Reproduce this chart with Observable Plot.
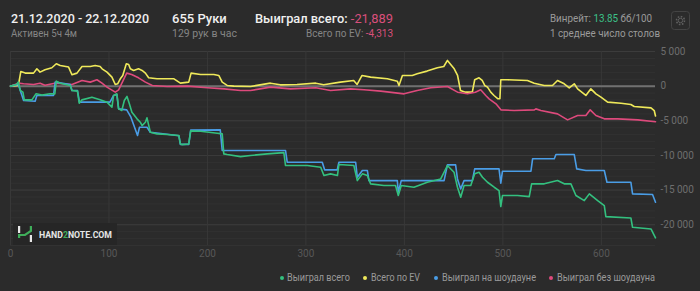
<!DOCTYPE html>
<html>
<head>
<meta charset="utf-8">
<script src="https://cdn.jsdelivr.net/npm/d3@7"></script>
<script src="https://cdn.jsdelivr.net/npm/@observablehq/plot@0.6"></script>
<style>
  html, body { margin: 0; padding: 0; background: #2b2b2b; }
  #wrap { position: relative; width: 700px; height: 291px; background: #2b2b2b; overflow: hidden; font-family: Roboto, "Noto Sans", sans-serif; }
  .t { position: absolute; white-space: nowrap; line-height: 1; }
  #chart { position: absolute; left: 0; top: 40px; }
  .leg { position: absolute; top: 273px; font-size: 10.5px; color: #9a9a9a; white-space: nowrap; line-height: 1; }
  .dot { position: absolute; width: 4px; height: 4px; border-radius: 50%; top: 276px; }
  #wm { position: absolute; left: 13px; top: 223px; width: 104px; height: 22px; background: #262626; }
</style>
</head>
<body>
<div id="wrap">
  <div class="t" id="h1" style="left:11px;top:12px;font-size:13px;font-weight:500;color:#f0f0f0">21.12.2020 - 22.12.2020</div>
  <div class="t" id="h2" style="left:11px;top:29px;font-size:10.5px;color:#858585">Активен 5ч 4м</div>
  <div class="t" id="h3" style="left:172px;top:12px;font-size:13px;font-weight:500;color:#f0f0f0">655 Руки</div>
  <div class="t" id="h4" style="left:172px;top:29px;font-size:10.5px;color:#858585">129 рук в час</div>
  <div class="t" id="h5" style="left:255px;top:12px;font-size:13px;font-weight:500;color:#f0f0f0">Выиграл всего: <span style="color:#d94f7c;font-weight:400">-21,889</span></div>
  <div class="t" id="h6" style="left:306px;top:29px;font-size:10.5px;color:#858585">Всего по EV: <span style="color:#d94f7c">-4,313</span></div>
  <div class="t" id="h7" style="left:550px;top:13px;font-size:11.5px;color:#9a9a9a">Винрейт: <span style="color:#3cc289">13.85</span> бб/100</div>
  <div class="t" id="h8" style="left:550px;top:28px;font-size:11.5px;color:#9a9a9a">1 среднее число столов</div>
  <svg style="position:absolute;left:671px;top:11px" width="19" height="19" viewBox="0 0 19 19">
    <rect x="0.5" y="0.5" width="18" height="18" rx="3" fill="none" stroke="#444"/>
    <circle cx="9.5" cy="9.5" r="4" fill="none" stroke="#5f5f5f" stroke-width="1.6" stroke-dasharray="1.6 1.5"/>
    <circle cx="9.5" cy="9.5" r="2.2" fill="none" stroke="#5f5f5f" stroke-width="1"/>
  </svg>
  <div id="chart"></div>
  <div id="wm">
    <svg style="position:absolute;left:4px;top:3px" width="16" height="16" viewBox="0 0 16 16">
      <rect x="1" y="0" width="2.2" height="7" fill="#e8e8e8"/>
      <rect x="12.8" y="9" width="2.2" height="7" fill="#e8e8e8"/>
      <path d="M2.1 12 L2.1 9 L8 9 L13.9 5 L13.9 0" fill="none" stroke="#3fae5a" stroke-width="2.2"/>
    </svg>
    <div class="t" id="wmt" style="left:26px;top:8px;font-size:8.5px;font-weight:700;color:#e6e6e6">HAND<span style="color:#3fae5a">2</span>NOTE.COM</div>
  </div>
  <span class="dot" style="left:280px;background:#33c07f"></span>
  <div class="leg" id="l1" style="left:287px">Выиграл всего</div>
  <span class="dot" style="left:363px;background:#efe95a"></span>
  <div class="leg" id="l2" style="left:371px">Всего по EV</div>
  <span class="dot" style="left:434px;background:#4a9de6"></span>
  <div class="leg" id="l3" style="left:442px">Выиграл на шоудауне</div>
  <span class="dot" style="left:549px;background:#de4a7c"></span>
  <div class="leg" id="l4" style="left:557px">Выиграл без шоудауна</div>
</div>
<script>
// [hand, value] pairs
const totalWon = [[0,0],[6,240],[8,580],[10,-630],[12.6,-870],[14,-1980],[21.7,-1980],[26,-1110],[32,-1300],[40,-1110],[45,-1110],[46.5,720],[50.5,430],[60.7,100],[62.4,-630],[68,-720],[69.8,-2460],[72.6,-1980],[82.7,-1590],[91,-1980],[98,-2310],[103,-3040],[104.7,-1350],[108,-1110],[109.8,-3280],[113,-3520],[115.6,-2070],[118.3,-1490],[120.7,-2550],[123.3,-3760],[128.5,-4720],[131.8,-5210],[133.6,-5690],[137,-5210],[138.6,-4580],[142,-6650],[148.8,-6890],[159,-6990],[171,-7130],[172.5,-8330],[174,-8440],[181,-8340],[183,-6450],[193,-6510],[210,-6800],[215,-6890],[216.6,-9780],[220,-9870],[233.6,-10170],[243.7,-10010],[260.7,-9770],[277.6,-9600],[279.3,-11460],[301.4,-11460],[315,-11700],[318.3,-12900],[325,-12660],[332,-12900],[333.5,-11310],[348.7,-11460],[352.2,-13630],[357.3,-12660],[362.4,-12900],[365.7,-14100],[379.2,-14350],[391,-14350],[393.8,-15790],[396.8,-14350],[409.7,-14590],[423.3,-13870],[436.9,-13390],[443.7,-11460],[450.4,-12420],[453.9,-14590],[457.2,-16040],[460.6,-14350],[467.4,-14350],[471.4,-12660],[475.8,-12420],[479.3,-13150],[484.4,-13870],[491.2,-14590],[496.1,-15070],[497.9,-17380],[499.6,-15790],[514.9,-15790],[526.8,-15940],[529.2,-14100],[542,-14100],[555.5,-13630],[562.3,-14100],[569.1,-14100],[574.2,-15790],[582.7,-16520],[587.8,-15550],[596.3,-16520],[603,-17240],[604.6,-18830],[630,-19020],[631.7,-20370],[650.4,-20610],[655,-21889]];

const evTotal = [[0,0],[8,100],[10.5,2120],[15,1880],[23.4,1880],[26.8,2500],[30,2020],[35,2360],[42,2650],[46.5,3230],[50.5,2990],[59,2750],[62.4,1640],[67.5,1880],[72.6,2840],[81,2840],[86,2990],[91,2840],[93,2500],[98,2020],[103,1300],[106.4,240],[108.8,340],[111.5,1060],[114,1540],[117.6,3230],[120,3130],[121.7,2500],[125,2270],[130,2500],[133.6,2270],[137,1880],[140.3,1200],[148.8,1060],[166,1060],[172.5,430],[181,580],[183.4,1880],[193,1690],[206.5,1690],[211.5,1540],[215,580],[220,100],[226.8,0],[243.7,-50],[264,430],[274,190],[291,240],[310,430],[318,190],[335,580],[348.5,820],[352,240],[357,1540],[365.7,1300],[382.7,1060],[392.8,720],[394.5,100],[398,1540],[408,1540],[413,1780],[423,2170],[433.5,2650],[440,2840],[443.7,3710],[447,3130],[450.6,2500],[454,1540],[457,-630],[462,-870],[469,-870],[471.4,920],[475.8,1200],[479,820],[481.6,100],[484.4,-140],[487.7,-870],[491,-1350],[495,-1830],[497,-1830],[497.9,920],[504.7,920],[525,820],[531.8,430],[542,100],[550.4,100],[555.5,820],[562.3,340],[567.4,-240],[572.5,340],[575.9,-390],[584.3,-1350],[589.4,-390],[594.5,-1110],[599.6,-1590],[606.4,-2310],[620,-2460],[630,-2650],[633.4,-2940],[650.4,-3130],[653.7,-3520],[655,-4313]];

const showdownWon = [[0,0],[8,240],[10.5,-870],[13.3,-2070],[25,-2170],[26.8,-1350],[43.7,-1350],[45.4,580],[60.7,240],[62.4,-630],[68,-630],[70,-2310],[101,-2310],[104.7,-1350],[108,-1200],[109.8,-3280],[118,-3420],[122.3,-4480],[129,-7130],[131,-5930],[138.6,-5930],[142,-6650],[159,-6950],[171,-7150],[172.5,-8400],[181,-8400],[183,-6350],[213,-6310],[215,-9290],[279.3,-9290],[281,-10980],[316.6,-10980],[319,-12080],[331.8,-12080],[333.5,-10980],[350.5,-10980],[352.2,-13150],[357.3,-12180],[362.4,-12180],[364,-13630],[392.8,-13630],[393.8,-15310],[396.8,-13630],[440.3,-13630],[443.7,-11360],[452,-11360],[453.9,-13390],[457.2,-14830],[460.6,-13630],[469,-13630],[471.4,-11940],[496.1,-11940],[497.9,-14010],[499.6,-12280],[528.5,-12280],[530.2,-10490],[552.2,-10490],[553.9,-9870],[572.5,-9870],[575,-11940],[584.3,-12180],[603,-12180],[605.7,-13870],[630,-13870],[631.7,-15550],[652,-15650],[655,-16760]];

const nonShowdownWon = [[0,0],[8,430],[13.3,340],[23.4,240],[30,430],[35,140],[45,430],[53.7,340],[62.4,240],[72.6,820],[81,580],[87.8,920],[92.9,430],[98,-140],[106.4,-870],[109.8,-530],[118,1880],[123,1690],[130,1200],[137,580],[144,100],[159,-50],[179.6,0],[200,-240],[217,-390],[233.6,-630],[243.7,-630],[264,-140],[284.4,-390],[310,-240],[325,-630],[345.4,-390],[359,-530],[376,-720],[399.7,-1110],[413,-630],[426.8,-240],[443.7,-50],[454,-870],[464,-1110],[472,-870],[477.5,-530],[482.6,-1350],[486,-1830],[493,-2550],[498,-3420],[511.5,-3520],[532,-3420],[533.5,-3280],[538.6,-3520],[555.5,-4000],[565.7,-4870],[575.9,-4240],[584.3,-4240],[588.7,-3420],[594.5,-4240],[603,-4720],[616.6,-4720],[637,-4870],[655,-5129]];

const xTicks = [0, 100, 200, 300, 400, 500, 600];
const yTicks = [5000, 0, -5000, -10000, -15000, -20000];
const yMinorTicks = d3.range(-23000, 5001, 1000);

const fmt = d => (d < 0 ? "-" : "") + d3.format(",")(Math.abs(d)).replace(/,/g, " ");

const chart = Plot.plot({
  width: 700,
  height: 226,
  marginTop: 11,
  marginBottom: 21,
  marginLeft: 10,
  marginRight: 45,
  style: { background: "transparent", color: "#6a6a6a", fontFamily: "Roboto, sans-serif", fontSize: "10px", overflow: "visible" },
  x: { domain: [0, 655] },
  y: { domain: [-23000, 5000] },
  marks: [
    Plot.gridY(yMinorTicks, { stroke: "#323232", strokeOpacity: 1 }),
    Plot.gridY(yTicks, { stroke: "#3c3c3c", strokeOpacity: 1 }),
    Plot.gridX(xTicks, { stroke: "#383838", strokeOpacity: 1 }),
    Plot.ruleY([0], { stroke: "#707070", strokeWidth: 2 }),
    Plot.axisX(xTicks, { tickSize: 0, tickPadding: 4, label: null, fill: "#585858" }),
    Plot.axisY(yTicks, { anchor: "right", tickSize: 0, tickPadding: 5, tickFormat: fmt, label: null, fill: "#6e6e6e" }),
    Plot.line(evTotal, { x: d => d[0], y: d => d[1], stroke: "#efe95a", strokeWidth: 1.6 }),
    Plot.line(nonShowdownWon, { x: d => d[0], y: d => d[1], stroke: "#de4a7c", strokeWidth: 1.6 }),
    Plot.line(showdownWon, { x: d => d[0], y: d => d[1], stroke: "#4a9de6", strokeWidth: 1.6 }),
    Plot.line(totalWon, { x: d => d[0], y: d => d[1], stroke: "#33c07f", strokeWidth: 1.6 })
  ]
});
document.getElementById("chart").appendChild(chart);

// squeeze text horizontally to the widths seen in the reference
const targetWidths = { h1: 138, h2: 66, h5: 138, h6: 87, h7: 102, h8: 110, wmt: 73, l1: 63, l2: 49, l3: 94, l4: 98 };
for (const [id, w] of Object.entries(targetWidths)) {
  const el = document.getElementById(id);
  const actual = el.getBoundingClientRect().width;
  if (actual > 0) {
    el.style.transformOrigin = "left center";
    el.style.transform = `scaleX(${w / actual})`;
  }
}
</script>
</body>
</html>
